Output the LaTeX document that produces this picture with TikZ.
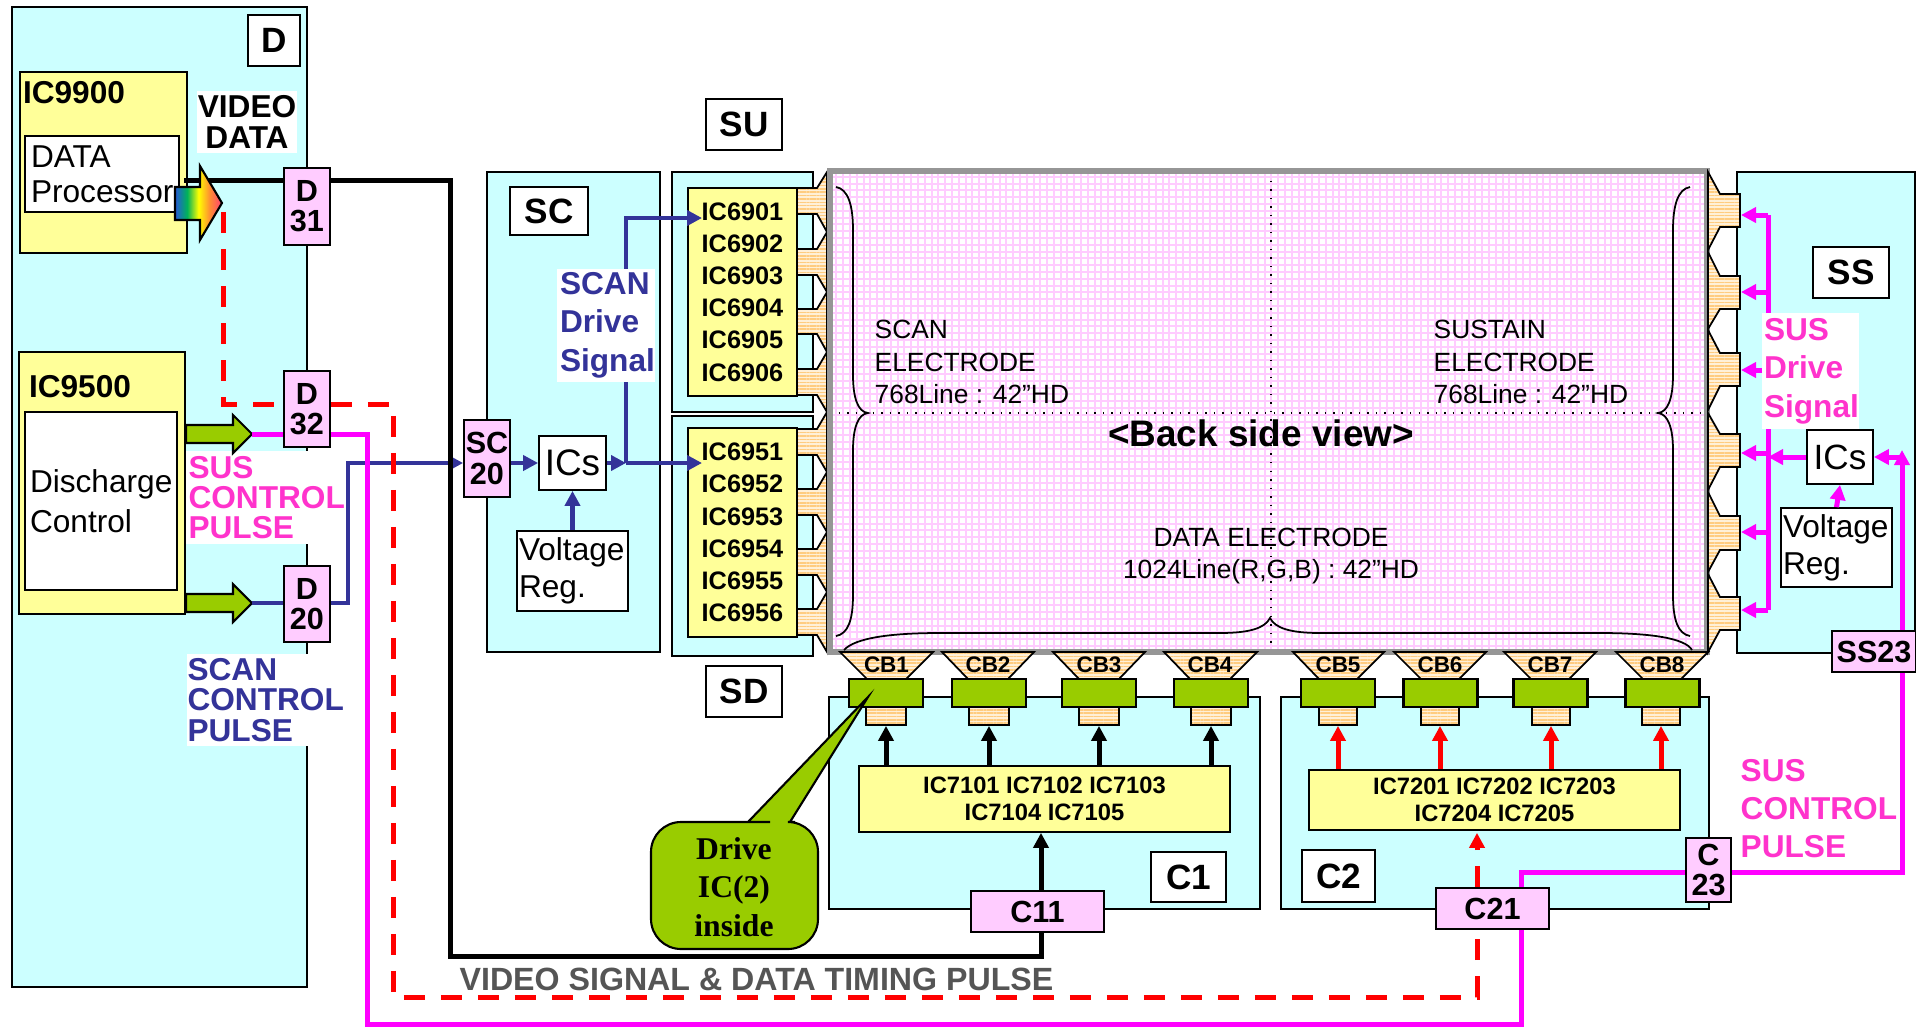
\documentclass[tikz,border=0pt]{standalone}
\usepackage{xcolor}
\usepackage{fontspec}
\setmainfont{Liberation Sans}
\newfontfamily\timesfont{Liberation Serif}
\usetikzlibrary{arrows.meta,patterns.meta}

\definecolor{boardcyan}{HTML}{CCFFFF}
\definecolor{icyellow}{HTML}{FFFF99}
\definecolor{conpink}{HTML}{FFCCFF}
\definecolor{drvgreen}{HTML}{99CC00}
\definecolor{gridpink}{HTML}{FFCCFF}
\definecolor{framegrey}{HTML}{969696}
\definecolor{stripeorange}{HTML}{FFCC80}
\definecolor{stripepale}{HTML}{FFF0D8}
\definecolor{scanblue}{HTML}{333399}
\definecolor{sigmagenta}{HTML}{FF00FF}
\definecolor{textmagenta}{HTML}{FF33CC}
\definecolor{signalgrey}{HTML}{555555}

\pgfdeclarehorizontalshading{rainbowshade}{100bp}{rgb(0bp)=(.15,.35,.85); rgb(25bp)=(.15,.35,.85); rgb(38bp)=(0,.7,.35); rgb(50bp)=(1,1,0); rgb(62bp)=(1,.55,.2); rgb(75bp)=(1,.25,.45); rgb(100bp)=(1,.25,.45)}

\tikzset{
    boardbox/.style={draw, fill=boardcyan, line width=.5pt, inner sep=0pt},
    icbox/.style={draw, fill=icyellow, line width=.5pt, inner sep=0pt, align=center},
    whitebox/.style={draw, fill=white, line width=.5pt, inner sep=0pt},
    namebox/.style={whitebox, font=\fontsize{10}{10}\selectfont\bfseries},
    conbox/.style={draw, fill=conpink, line width=.5pt, inner sep=0pt, align=center, font=\fontsize{8.7}{8.6}\selectfont\bfseries},
    drvbox/.style={draw, fill=drvgreen, line width=.6pt, inner sep=0pt, minimum width=.74cm, minimum height=.28cm},
    stripes/.style={draw, line width=.5pt, preaction={fill=stripepale}, pattern={Lines[angle=0,distance=.95pt,line width=.45pt]}, pattern color=stripeorange},
    pinbox/.style={stripes, inner sep=0pt, minimum height=.18cm},
    cbtext/.style={inner sep=0pt, font=\fontsize{6.4}{7}\selectfont\bfseries},
    fatarrow/.style={draw, fill=drvgreen, line width=.6pt},
    electext/.style={inner sep=0pt, anchor=west, align=left, font=\fontsize{7.5}{9.2}\selectfont},
    blackline/.style={line width=.05cm},
    blueline/.style={line width=.042cm, scanblue},
    magline/.style={line width=.05cm, sigmagenta},
    redline/.style={line width=.05cm, red, dash pattern=on .21cm off .16cm},
    bigtip/.style={-{Triangle[length=.15cm,width=.15cm]}}
}

\begin{document}
\begin{tikzpicture}[yscale=-1]
    \useasboundingbox (0,0) rectangle (19.16,10.27);

    % boards
    \node[boardbox, minimum width=2.95cm, minimum height=9.80cm] (dboard) at (1.595,4.97) {};
    \node[boardbox, minimum width=1.73cm, minimum height=4.80cm] (scboard) at (5.735,4.12) {};
    \node[boardbox, minimum width=1.41cm, minimum height=2.40cm] (suboard) at (7.425,2.92) {};
    \node[boardbox, minimum width=1.41cm, minimum height=2.40cm] (sdboard) at (7.425,5.36) {};
    \node[boardbox, minimum width=1.78cm, minimum height=4.81cm] (ssboard) at (18.26,4.125) {};
    \node[boardbox, minimum width=4.31cm, minimum height=2.12cm] (coneboard) at (10.445,8.03) {};
    \node[boardbox, minimum width=4.28cm, minimum height=2.12cm] (ctwoboard) at (14.95,8.03) {};

    \node[namebox, minimum width=.52cm, minimum height=.51cm] (dname) at (2.74,.405) {D};
    \node[namebox, minimum width=.78cm, minimum height=.48cm] (scname) at (5.49,2.11) {SC};
    \node[namebox, minimum width=.76cm, minimum height=.51cm] (suname) at (7.44,1.245) {SU};
    \node[namebox, minimum width=.76cm, minimum height=.51cm] (sdname) at (7.44,6.915) {SD};
    \node[namebox, minimum width=.76cm, minimum height=.51cm] (ssname) at (18.51,2.725) {SS};
    \node[namebox, minimum width=.75cm, minimum height=.50cm] (conename) at (11.885,8.77) {C1};
    \node[namebox, minimum width=.73cm, minimum height=.52cm] (ctwoname) at (13.385,8.76) {C2};

    % D board
    \node[icbox, minimum width=1.67cm, minimum height=1.81cm] (icnineninebox) at (1.035,1.625) {};
    \node[inner sep=0pt, font=\fontsize{9}{9}\selectfont\bfseries] (icninenine) at (.74,.93) {IC9900};
    \node[whitebox, minimum width=1.54cm, minimum height=.76cm, align=left, text width=1.42cm, font=\fontsize{9}{10}\selectfont] (dataproc) at (1.02,1.74) {DATA\\Processor};
    \node[icbox, minimum width=1.66cm, minimum height=2.62cm] (icninefivebox) at (1.02,4.83) {};
    \node[inner sep=0pt, font=\fontsize{9}{9}\selectfont\bfseries] (icninefive) at (.80,3.87) {IC9500};
    \node[whitebox, minimum width=1.52cm, minimum height=1.78cm, align=left, text width=1.42cm, font=\fontsize{9}{11.4}\selectfont] (discharge) at (1.01,5.01) {Discharge\\Control};
    \node[fill=white, inner sep=0pt, minimum width=1.00cm, minimum height=.62cm, align=center, font=\fontsize{9}{8.7}\selectfont\bfseries] (videodata) at (2.47,1.22) {VIDEO\\DATA};

    \coordinate (videostart) at (1.84,1.80);
    \coordinate (redstart) at (2.23,2.12);
    \coordinate (redbend) at (2.23,4.04);
    \coordinate (sustip) at (2.52,4.34);
    \coordinate (scantip) at (2.52,6.03);

    \node[conbox, minimum width=.46cm, minimum height=.77cm] (dthirtyone) at (3.07,2.065) {D\\31};
    \node[conbox, minimum width=.46cm, minimum height=.76cm] (dthirtytwo) at (3.07,4.09) {D\\32};
    \node[conbox, minimum width=.46cm, minimum height=.76cm] (dtwenty) at (3.07,6.04) {D\\20};

    \node[fill=white, inner sep=0pt, inner xsep=.03cm, text width=1.55cm, minimum height=.93cm, align=left, text=textmagenta, font=\fontsize{9}{8.6}\selectfont\bfseries] (suscontrol) at (2.66,4.975) {SUS\\CONTROL\\PULSE};
    \node[fill=white, inner sep=0pt, inner xsep=.01cm, text width=1.57cm, minimum height=.92cm, align=left, text=scanblue, font=\fontsize{9}{8.7}\selectfont\bfseries] (scancontrol) at (2.66,7.00) {SCAN\\CONTROL\\PULSE};

    \draw[blackline] (videostart) -- (dthirtyone.west |- videostart);
    \draw[redline] (redstart) -- (redbend) -- (dthirtytwo.west |- redbend);

    \draw[shading=rainbowshade, line width=.6pt] (1.75,1.87) -- (2.00,1.87) -- (2.00,1.66) -- (2.22,2.03) -- (2.00,2.40) -- (2.00,2.20) -- (1.75,2.20) -- cycle;
    \draw[fatarrow] (1.86,4.25) -- (2.33,4.25) -- (2.33,4.15) -- (sustip) -- (2.33,4.53) -- (2.33,4.43) -- (1.86,4.43) -- cycle;
    \draw[fatarrow] (1.86,5.94) -- (2.33,5.94) -- (2.33,5.84) -- (scantip) -- (2.33,6.22) -- (2.33,6.12) -- (1.86,6.12) -- cycle;

    % SU, SD
    \node[icbox, minimum width=1.09cm, minimum height=2.08cm, font=\fontsize{7.2}{9.15}\selectfont\bfseries] (icsu) at (7.425,2.92) {IC6901\\IC6902\\IC6903\\IC6904\\IC6905\\IC6906};
    \node[icbox, minimum width=1.09cm, minimum height=2.09cm, font=\fontsize{7.2}{9.15}\selectfont\bfseries] (icsd) at (7.425,5.325) {IC6951\\IC6952\\IC6953\\IC6954\\IC6955\\IC6956};

    % panel
    \fill[white] (8.30,1.72) rectangle (17.06,6.52);
    \draw[gridpink, line width=.02cm, step=.068cm] (8.30,1.72) grid (17.06,6.52);
    \draw[dotted, line width=.015cm] (8.30,4.13) -- (17.06,4.13);
    \draw[dotted, line width=.015cm] (12.71,1.72) -- (12.71,6.52);

    % left pins
    \draw[stripes] (7.97,1.88) -- (8.17,1.88) -- (8.27,1.72) -- (8.27,2.32) -- (8.17,2.14) -- (7.97,2.14) -- cycle;
    \draw[stripes] (7.97,2.49) -- (8.17,2.49) -- (8.27,2.32) -- (8.27,2.92) -- (8.17,2.75) -- (7.97,2.75) -- cycle;
    \draw[stripes] (7.97,3.09) -- (8.17,3.09) -- (8.27,2.92) -- (8.27,3.52) -- (8.17,3.34) -- (7.97,3.34) -- cycle;
    \draw[stripes] (7.97,3.69) -- (8.17,3.69) -- (8.27,3.52) -- (8.27,4.12) -- (8.17,3.95) -- (7.97,3.95) -- cycle;
    \draw[stripes] (7.97,4.29) -- (8.17,4.29) -- (8.27,4.12) -- (8.27,4.72) -- (8.17,4.55) -- (7.97,4.55) -- cycle;
    \draw[stripes] (7.97,4.89) -- (8.17,4.89) -- (8.27,4.72) -- (8.27,5.32) -- (8.17,5.15) -- (7.97,5.15) -- cycle;
    \draw[stripes] (7.97,5.49) -- (8.17,5.49) -- (8.27,5.32) -- (8.27,5.92) -- (8.17,5.75) -- (7.97,5.75) -- cycle;
    \draw[stripes] (7.97,6.09) -- (8.17,6.09) -- (8.27,5.92) -- (8.27,6.52) -- (8.17,6.35) -- (7.97,6.35) -- cycle;

    \draw[framegrey, line width=.06cm] (8.30,1.71) rectangle (17.07,6.52);

    % right pins
    \draw[stripes] (17.40,1.94) -- (17.20,1.94) -- (17.08,1.72) -- (17.08,2.50) -- (17.20,2.27) -- (17.40,2.27) -- cycle;
    \draw[stripes] (17.40,2.76) -- (17.20,2.76) -- (17.08,2.52) -- (17.08,3.29) -- (17.20,3.09) -- (17.40,3.09) -- cycle;
    \draw[stripes] (17.40,3.53) -- (17.20,3.53) -- (17.08,3.30) -- (17.08,4.10) -- (17.20,3.86) -- (17.40,3.86) -- cycle;
    \draw[stripes] (17.40,4.34) -- (17.20,4.34) -- (17.08,4.13) -- (17.08,4.90) -- (17.20,4.67) -- (17.40,4.67) -- cycle;
    \draw[stripes] (17.40,5.16) -- (17.20,5.16) -- (17.08,4.92) -- (17.08,5.72) -- (17.20,5.50) -- (17.40,5.50) -- cycle;
    \draw[stripes] (17.40,5.97) -- (17.20,5.97) -- (17.08,5.74) -- (17.08,6.52) -- (17.20,6.30) -- (17.40,6.30) -- cycle;

    % braces
    \draw[line width=.5pt] (8.36,1.87) .. controls (8.48,1.89) and (8.53,2.05) .. (8.53,2.30) -- (8.53,3.75) .. controls (8.53,3.98) and (8.58,4.12) .. (8.68,4.13) .. controls (8.58,4.14) and (8.53,4.28) .. (8.53,4.50) -- (8.53,5.95) .. controls (8.53,6.20) and (8.48,6.34) .. (8.36,6.36);
    \draw[line width=.5pt] (16.90,1.87) .. controls (16.78,1.89) and (16.73,2.05) .. (16.73,2.30) -- (16.73,3.75) .. controls (16.73,3.98) and (16.68,4.12) .. (16.58,4.13) .. controls (16.68,4.14) and (16.73,4.28) .. (16.73,4.50) -- (16.73,5.95) .. controls (16.73,6.20) and (16.78,6.34) .. (16.90,6.36);
    \draw[line width=.5pt] (8.44,6.50) .. controls (8.55,6.38) and (8.90,6.33) .. (9.40,6.33) -- (12.20,6.33) .. controls (12.50,6.33) and (12.65,6.28) .. (12.70,6.18) .. controls (12.75,6.28) and (12.90,6.33) .. (13.20,6.33) -- (16.00,6.33) .. controls (16.50,6.33) and (16.85,6.38) .. (16.92,6.50);

    \node[electext] (scanelec) at (8.74,3.62) {SCAN\\ELECTRODE\\768Line : 42''HD};
    \node[electext] (sustelec) at (14.33,3.62) {SUSTAIN\\ELECTRODE\\768Line : 42''HD};
    \node[inner sep=0pt, font=\fontsize{10.5}{11}\selectfont\bfseries] (backview) at (12.61,4.33) {<Back side view>};
    \node[inner sep=0pt, align=center, font=\fontsize{7.5}{9.2}\selectfont] (dataelec) at (12.71,5.56) {DATA ELECTRODE\\1024Line(R,G,B) : 42''HD};

    % CB row
    \draw[stripes] (8.40,6.52) -- (9.33,6.52) -- (9.06,6.79) -- (8.67,6.79) -- cycle;
    \draw[stripes] (9.42,6.52) -- (10.34,6.52) -- (10.08,6.79) -- (9.68,6.79) -- cycle;
    \draw[stripes] (10.53,6.52) -- (11.45,6.52) -- (11.19,6.79) -- (10.79,6.79) -- cycle;
    \draw[stripes] (11.64,6.52) -- (12.57,6.52) -- (12.30,6.79) -- (11.90,6.79) -- cycle;
    \draw[stripes] (12.93,6.52) -- (13.84,6.52) -- (13.57,6.79) -- (13.19,6.79) -- cycle;
    \draw[stripes] (13.94,6.52) -- (14.86,6.52) -- (14.59,6.79) -- (14.21,6.79) -- cycle;
    \draw[stripes] (15.04,6.52) -- (15.96,6.52) -- (15.69,6.79) -- (15.31,6.79) -- cycle;
    \draw[stripes] (16.16,6.52) -- (17.08,6.52) -- (16.81,6.79) -- (16.43,6.79) -- cycle;

    \node[cbtext] (cbone) at (8.865,6.65) {CB1};
    \node[cbtext] (cbtwo) at (9.88,6.65) {CB2};
    \node[cbtext] (cbthree) at (10.99,6.65) {CB3};
    \node[cbtext] (cbfour) at (12.10,6.65) {CB4};
    \node[cbtext] (cbfive) at (13.38,6.65) {CB5};
    \node[cbtext] (cbsix) at (14.40,6.65) {CB6};
    \node[cbtext] (cbseven) at (15.50,6.65) {CB7};
    \node[cbtext] (cbeight) at (16.62,6.65) {CB8};

    \node[drvbox] (drvone) at (8.86,6.93) {};
    \node[drvbox] (drvtwo) at (9.89,6.93) {};
    \node[drvbox] (drvthree) at (10.99,6.93) {};
    \node[drvbox] (drvfour) at (12.11,6.93) {};
    \node[drvbox] (drvfive) at (13.38,6.93) {};
    \node[drvbox] (drvsix) at (14.405,6.93) {};
    \node[drvbox] (drvseven) at (15.505,6.93) {};
    \node[drvbox] (drveight) at (16.625,6.93) {};

    \node[pinbox, minimum width=.40cm] (pinone) at (8.86,7.16) {};
    \node[pinbox, minimum width=.40cm] (pintwo) at (9.89,7.16) {};
    \node[pinbox, minimum width=.40cm] (pinthree) at (10.99,7.16) {};
    \node[pinbox, minimum width=.40cm] (pinfour) at (12.11,7.16) {};
    \node[pinbox, minimum width=.38cm] (pinfive) at (13.38,7.16) {};
    \node[pinbox, minimum width=.38cm] (pinsix) at (14.40,7.16) {};
    \node[pinbox, minimum width=.38cm] (pinseven) at (15.51,7.16) {};
    \node[pinbox, minimum width=.38cm] (pineight) at (16.61,7.16) {};

    % C1, C2
    \node[icbox, minimum width=3.71cm, minimum height=.66cm, font=\fontsize{6.75}{7.7}\selectfont\bfseries] (icone) at (10.445,7.99) {IC7101 IC7102 IC7103\\IC7104 IC7105};
    \node[icbox, minimum width=3.71cm, minimum height=.60cm, font=\fontsize{6.75}{7.5}\selectfont\bfseries] (ictwo) at (14.945,8.00) {IC7201 IC7202 IC7203\\IC7204 IC7205};

    \coordinate (blackbend) at (10.41,9.56);
    \coordinate (magbend) at (15.21,8.72);
    \coordinate (ssbend) at (19.02,8.72);
    \coordinate (redriser) at (14.77,9.97);

    \node[conbox, minimum width=1.33cm, minimum height=.41cm] (coneone) at (10.375,9.115) {C11};
    \node[conbox, minimum width=1.13cm, minimum height=.41cm] (ctwoone) at (14.925,9.085) {C21};
    \node[conbox, minimum width=.45cm, minimum height=.64cm] (ctwothree) at (17.085,8.70) {C\\23};
    \node[conbox, minimum width=.84cm, minimum height=.41cm] (sstwothree) at (18.74,6.515) {SS23};

    \draw[bigtip, blackline] (icone.north -| pinone) -- (pinone.south);
    \draw[bigtip, blackline] (icone.north -| pintwo) -- (pintwo.south);
    \draw[bigtip, blackline] (icone.north -| pinthree) -- (pinthree.south);
    \draw[bigtip, blackline] (icone.north -| pinfour) -- (pinfour.south);
    \draw[bigtip, line width=.05cm, red] (ictwo.north -| pinfive) -- (pinfive.south);
    \draw[bigtip, line width=.05cm, red] (ictwo.north -| pinsix) -- (pinsix.south);
    \draw[bigtip, line width=.05cm, red] (ictwo.north -| pinseven) -- (pinseven.south);
    \draw[bigtip, line width=.05cm, red] (ictwo.north -| pineight) -- (pineight.south);

    % SC board
    \node[conbox, minimum width=.46cm, minimum height=.77cm] (sctwenty) at (4.87,4.585) {SC\\20};
    \node[whitebox, minimum width=.67cm, minimum height=.54cm, font=\fontsize{10.5}{11}\selectfont] (icsc) at (5.725,4.63) {ICs};
    \node[whitebox, minimum width=1.11cm, minimum height=.80cm, align=left, text width=1.07cm, font=\fontsize{9}{10.6}\selectfont] (voltsc) at (5.725,5.71) {Voltage\\Reg.};

    \coordinate (scanjoin) at (6.26,4.63);
    \coordinate (scanup) at (6.26,2.18);

    \draw[bigtip, blueline] (dtwenty.east |- scantip) -- (3.48,6.03) -- (3.48,4.63) -- (sctwenty.west |- scanjoin);
    \draw[blueline] (scantip) -- (dtwenty.west |- scantip);
    \draw[bigtip, blueline] (sctwenty.east |- scanjoin) -- (icsc.west);
    \draw[bigtip, blueline] (icsc.east) -- (scanjoin);
    \draw[bigtip, blueline] (scanjoin) -- (7.02,4.63);
    \draw[bigtip, blueline] (scanjoin) -- (scanup) -- (7.02,2.18);
    \draw[bigtip, blueline] (voltsc.north) -- (icsc.south);
    \node[fill=white, inner sep=0pt, inner xsep=.03cm, text width=.92cm, minimum height=1.13cm, align=left, text=scanblue, font=\fontsize{9}{11}\selectfont\bfseries] (scandrive) at (6.06,3.25) {SCAN\\Drive\\Signal};

    % long runs
    \draw[blackline] (dthirtyone.east |- videostart) -- (4.50,1.80) -- (4.50,9.56) -- (blackbend) -- (coneone.south -| blackbend);
    \draw[bigtip, blackline] (coneone.north -| blackbend) -- (icone.south -| blackbend);
    \draw[redline] (dthirtytwo.east |- redbend) -- (3.93,4.04) -- (3.93,9.97) -- (redriser) -- (ctwoone.south -| redriser);
    \draw[bigtip, redline] (ctwoone.north -| redriser) -- (icone.south -| redriser);
    \draw[magline] (sustip) -- (dthirtytwo.west |- sustip);
    \draw[magline] (dthirtytwo.east |- sustip) -- (3.67,4.34) -- (3.67,10.24) -- (15.21,10.24) -- (ctwoone.south -| magbend);
    \draw[magline] (ctwothree.west |- magbend) -- (magbend) -- (ctwoone.north -| magbend);
    \draw[magline] (ctwothree.east |- magbend) -- (ssbend) -- (ssbend |- sstwothree.south);

    \node[inner sep=0pt, text=signalgrey, font=\fontsize{9.15}{9}\selectfont\bfseries] (videosignal) at (7.565,9.79) {VIDEO SIGNAL \& DATA TIMING PULSE};
    \node[inner sep=0pt, align=left, text=textmagenta, font=\fontsize{9}{10.8}\selectfont\bfseries, anchor=west] (susright) at (17.40,8.09) {SUS\\CONTROL\\PULSE};

    % SS board
    \node[whitebox, minimum width=.66cm, minimum height=.54cm, font=\fontsize{10}{10}\selectfont] (icss) at (18.40,4.57) {ICs};
    \node[whitebox, minimum width=1.11cm, minimum height=.79cm, align=left, text width=1.07cm, font=\fontsize{9}{10.6}\selectfont] (voltss) at (18.365,5.475) {Voltage\\Reg.};

    \coordinate (ssarrowa) at (17.41,2.15);
    \coordinate (ssarrowb) at (17.41,2.92);
    \coordinate (ssarrowc) at (17.41,3.70);
    \coordinate (ssarrowd) at (17.41,4.53);
    \coordinate (ssarrowe) at (17.41,5.32);
    \coordinate (ssarrowf) at (17.41,6.10);
    \coordinate (busx) at (17.68,2.15);

    \draw[bigtip, magline] (busx) -- (ssarrowa);
    \draw[magline] (busx) -- (busx |- ssarrowf);
    \draw[bigtip, magline] (busx |- ssarrowb) -- (ssarrowb);
    \draw[bigtip, magline] (busx |- ssarrowc) -- (ssarrowc);
    \draw[bigtip, magline] (busx |- ssarrowd) -- (ssarrowd);
    \draw[bigtip, magline] (busx |- ssarrowe) -- (ssarrowe);
    \draw[bigtip, magline] (busx |- ssarrowf) -- (ssarrowf);
    \draw[bigtip, magline] (icss.west) -- (busx |- icss.west);
    \draw[bigtip, magline] (voltss.north) -- (icss.south);
    \draw[bigtip, magline] (ssbend |- sstwothree.north) -- (19.02,4.50);
    \draw[bigtip, magline] (19.02,4.57) -- (icss.east);

    \node[fill=white, inner sep=0pt, inner xsep=.02cm, text width=.93cm, minimum height=1.16cm, align=left, text=textmagenta, font=\fontsize{9}{11}\selectfont\bfseries] (susdrive) at (18.105,3.71) {SUS\\Drive\\Signal};

    % callout
    \draw[fill=drvgreen, line width=.6pt] (7.40,8.22) -- (7.48,8.22) -- (8.68,6.97) -- (7.90,8.22) -- (7.95,8.22) [rounded corners=.3cm] -- (8.18,8.22) -- (8.18,9.49) -- (6.51,9.49) -- (6.51,8.22) -- cycle;
    \node[inner sep=0pt, align=center, font=\timesfont\fontsize{9}{11}\selectfont\bfseries] (drivenote) at (7.34,8.87) {Drive\\IC(2)\\inside};
\end{tikzpicture}
\end{document}
